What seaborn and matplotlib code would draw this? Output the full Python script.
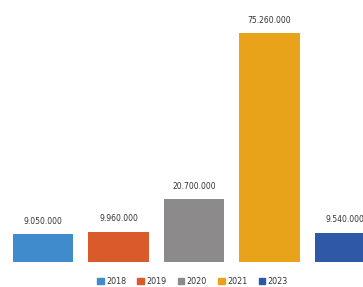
import seaborn as sns
import matplotlib.pyplot as plt
import pandas as pd

# valores
anios = ['2018', '2019', '2020', '2021', '2023']
valores = [9050000, 9960000, 20700000, 75260000, 9540000]
etiquetas = ['9.050.000', '9.960.000', '20.700.000', '75.260.000', '9.540.000']
colores = ['#3f8bcb', '#d95b2b', '#8c8a8a', '#e9a31b', '#2f58a6']

df = pd.DataFrame({'anio': anios, 'valor': valores})

sns.set_style('white')
fig = plt.figure(figsize=(3.63, 2.87), dpi=100)
ax = fig.add_axes([0, 25 / 287, 1, 262 / 287])
sns.barplot(data=df, x='anio', y='valor', hue='anio', palette=colores,
            saturation=1, dodge=False, width=0.8, legend=False,
            linewidth=0, ax=ax)

for i, (v, t) in enumerate(zip(valores, etiquetas)):
    ax.text(i, v + 2.8e6, t, ha='center', va='bottom', fontsize=5.5, color='#333333')

ax.set_xlim(-0.57, 4.24)
ax.set_ylim(0, 86.2e6)
ax.axis('off')

# leyenda abajo
handles = [plt.Rectangle((0, 0), 1, 1, color=c) for c in colores]
fig.legend(handles, anios, loc='center', bbox_to_anchor=(0.53, 6 / 287), ncol=5,
           frameon=False, fontsize=5.8, handlelength=0.8, handleheight=0.8,
           handletextpad=0.3, columnspacing=1.4, labelcolor='#333333')

fig.savefig('out.png', dpi=100)
